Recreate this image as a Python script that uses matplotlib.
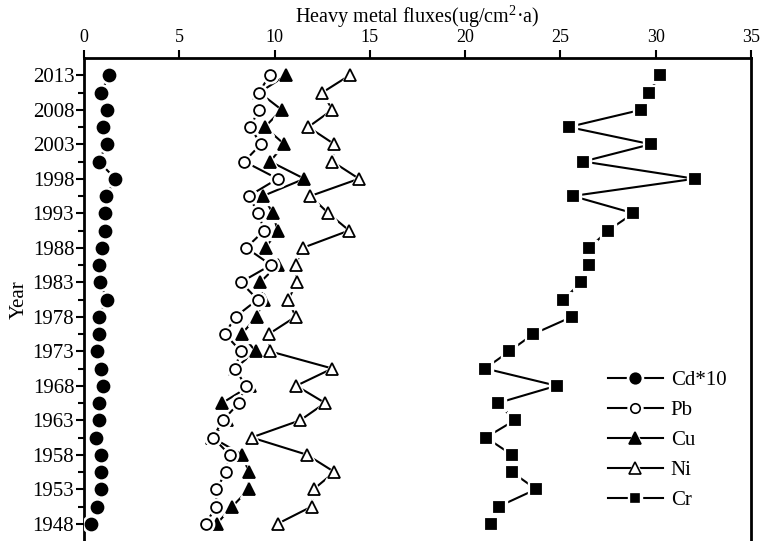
import matplotlib
matplotlib.use("Agg")
import matplotlib.pyplot as plt
from matplotlib.lines import Line2D
from matplotlib.ticker import FixedLocator
import numpy as np

plt.rcParams['font.family'] = ['Liberation Serif', 'DejaVu Serif']
plt.rcParams['mathtext.fontset'] = 'custom'
plt.rcParams['mathtext.rm'] = 'Liberation Serif'
plt.rcParams['mathtext.it'] = 'Liberation Serif:italic'

years = [2013, 2010.5, 2008, 2005.5, 2003, 2000.5, 1998, 1995.5, 1993, 1990.5,
         1988, 1985.5, 1983, 1980.5, 1978, 1975.5, 1973, 1970.5, 1968, 1965.5,
         1963, 1960.5, 1958, 1955.5, 1953, 1950.5, 1948]

cd10 = [1.33, 0.88, 1.19, 0.98, 1.19, 0.77, 1.65, 1.16, 1.09, 1.12,
        0.95, 0.80, 0.84, 1.19, 0.77, 0.77, 0.70, 0.91, 0.98, 0.80,
        0.77, 0.63, 0.88, 0.88, 0.91, 0.67, 0.38]
pb = [9.74, 9.18, 9.18, 8.72, 9.28, 8.41, 10.16, 8.65, 9.14, 9.46,
      8.51, 9.81, 8.23, 9.11, 7.95, 7.39, 8.23, 7.92, 8.48, 8.13,
      7.29, 6.76, 7.64, 7.46, 6.94, 6.94, 6.38]
cu = [10.61, 9.2, 10.37, 9.49, 10.51, 9.77, 11.56, 9.39, 9.91, 10.16,
      9.53, 10.16, 9.25, 9.42, 9.07, 8.27, 9.00, 7.92, 8.72, 7.25,
      7.50, 6.73, 8.30, 8.65, 8.65, 7.78, 6.97]
ni = [13.94, 12.51, 13.03, 11.77, 13.14, 13.03, 14.43, 11.88, 12.82, 13.91,
      11.49, 11.10, 11.18, 10.72, 11.10, 9.70, 9.74, 13.03, 11.14, 12.65,
      11.35, 8.79, 11.70, 13.14, 12.05, 11.95, 10.16]
cr = [30.23, 29.64, 29.25, 25.43, 29.74, 26.20, 32.05, 25.64, 28.83, 27.50,
      26.52, 26.52, 26.10, 25.15, 25.61, 23.58, 22.32, 21.05, 24.80, 21.72,
      22.60, 21.09, 22.45, 22.45, 23.72, 21.76, 21.37]

series_names = ['Cd*10', 'Pb', 'Cu', 'Ni', 'Cr']
series_vals = [cd10, pb, cu, ni, cr]
styles = {
    'Cd*10': dict(marker='o', ms=8.6, mfc='black'),
    'Pb':    dict(marker='o', ms=7.8, mfc='white'),
    'Cu':    dict(marker='^', ms=9.0, mfc='black'),
    'Ni':    dict(marker='^', ms=9.0, mfc='white'),
    'Cr':    dict(marker='s', ms=7.2, mfc='black'),
}
draw_order = {'Cd*10': 0, 'Cu': 1, 'Pb': 2, 'Ni': 3, 'Cr': 4}

fig = plt.figure(figsize=(7.64, 5.41), dpi=100)
ax = fig.add_axes([84/764, 0.0, (751-84)/764, (541-58)/541])

handles = []
for name, vals in zip(series_names, series_vals):
    st = styles[name]
    z = 2 + draw_order[name] * 3
    ax.plot(vals, years, color='black', lw=1.5, zorder=z)
    ax.plot(vals, years, ls='none', marker=st['marker'], ms=st['ms'] + 4,
            mfc='white', mec='white', zorder=z + 1)
    ax.plot(vals, years, ls='none', marker=st['marker'], ms=st['ms'],
            mfc=st['mfc'], mec='black', mew=1.3, zorder=z + 2)
    h1 = Line2D([], [], color='black', lw=1.5, marker=st['marker'], ms=st['ms'] - 1 + 4,
                mfc='white', mec='white')
    h2 = Line2D([], [], ls='none', marker=st['marker'], ms=st['ms'] - 1,
                mfc=st['mfc'], mec='black', mew=1.2)
    handles.append((h1, h2))

ax.set_xlim(0, 35)
ax.set_ylim(1945.5, 2015.5)

ax.xaxis.set_ticks_position('top')
ax.xaxis.set_label_position('top')
ax.set_xticks(np.arange(0, 36, 5))
ax.set_yticks(np.arange(2013, 1947, -5))
ax.yaxis.set_minor_locator(FixedLocator(np.arange(2010.5, 1947, -5)))

ax.tick_params(axis='x', which='major', direction='out', length=6, width=1.5,
               labelsize=13, pad=3)
ax.tick_params(axis='y', which='major', direction='out', length=6, width=1.5,
               labelsize=15, pad=1)
ax.tick_params(axis='y', which='minor', direction='out', length=4, width=1.5)

for s in ['top', 'left', 'right']:
    ax.spines[s].set_linewidth(2)
ax.spines['bottom'].set_visible(False)

ax.set_xlabel('Heavy metal fluxes(ug/cm$^{2}$·a)', fontsize=14.5, labelpad=4)
ax.set_ylabel('Year', fontsize=15, labelpad=3)

leg = ax.legend(handles, series_names, loc='upper left',
                bbox_to_anchor=((600 - 84) / 667, 1 - (362 - 58) / 483),
                frameon=False, fontsize=15, handlelength=2.6,
                labelspacing=0.5, handletextpad=0.4, borderaxespad=0)
leg.set_zorder(30)

fig.savefig('out.png', dpi=100)
